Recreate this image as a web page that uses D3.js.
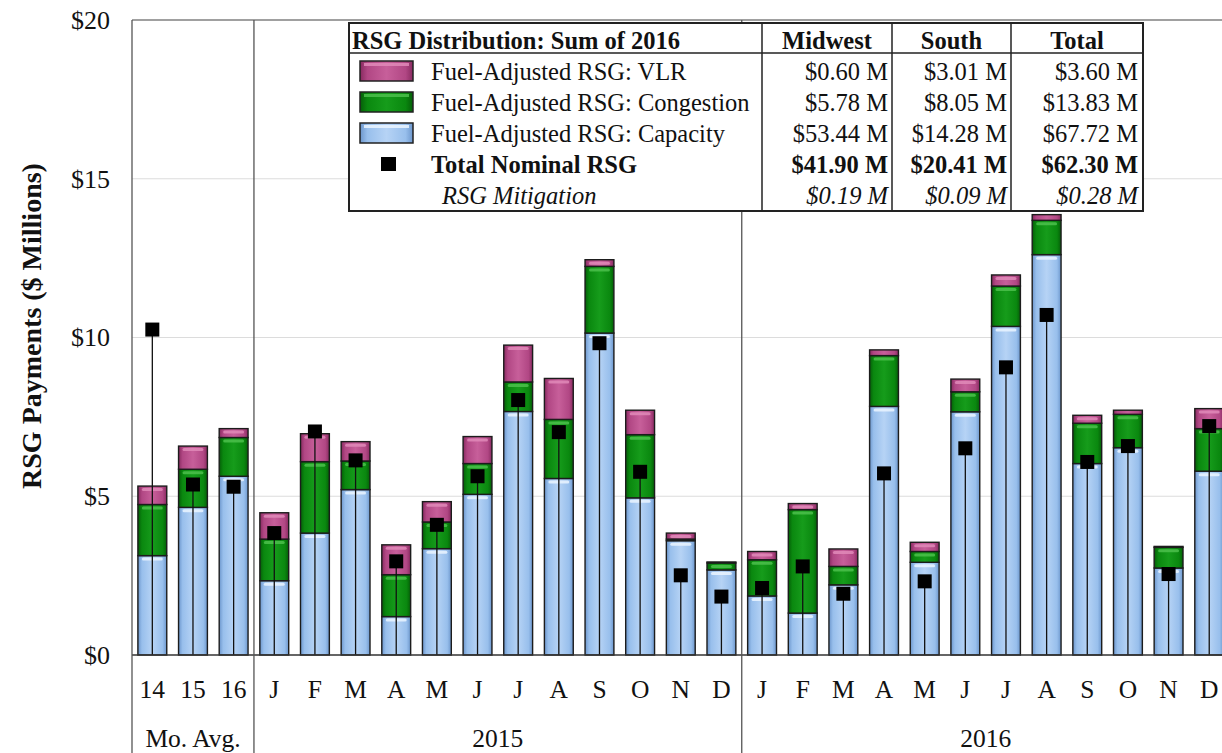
<!DOCTYPE html>
<html>
<head>
<meta charset="utf-8">
<script src="https://cdn.jsdelivr.net/npm/d3@7/dist/d3.min.js"></script>
<style>
  html, body { margin: 0; padding: 0; background: #fff; }
  svg { display: block; }
  text { font-family: "Liberation Serif", "Times New Roman", serif; fill: #111; }
</style>
</head>
<body>
<svg id="chart" width="1222" height="753"></svg>
<script>
// ---------------- DATA ----------------
const categories = ["14","15","16",
  "J","F","M","A","M","J","J","A","S","O","N","D",
  "J","F","M","A","M","J","J","A","S","O","N","D"];
const groups = ["Mo. Avg.","2015","2016"];
const groupSizes = [3, 12, 12];

const capacity   = [3.13,4.65,5.63, 2.34,3.84,5.21,1.21,3.35,5.06,7.67,5.56,10.14,4.95,3.60,2.68, 1.86,1.32,2.21,7.83,2.92,7.66,10.35,12.61,6.03,6.53,2.74,5.79];
const congestion = [1.61,1.20,1.22, 1.31,2.25,0.90,1.32,0.84,0.97,0.93,1.86,2.10,1.99,0.05,0.22, 1.14,3.26,0.58,1.60,0.34,0.63,1.27,1.08,1.27,1.05,0.65,1.34];
const vlr        = [0.58,0.73,0.28, 0.83,0.88,0.61,0.94,0.64,0.85,1.16,1.29,0.21,0.77,0.19,0.03, 0.26,0.19,0.55,0.18,0.29,0.40,0.35,0.18,0.25,0.13,0.03,0.63];
const nominal    = [10.25,5.37,5.30, 3.84,7.04,6.13,2.95,4.10,5.63,8.03,7.02,9.82,5.77,2.51,1.84, 2.11,2.79,1.93,5.72,2.32,6.51,9.06,10.71,6.08,6.58,2.55,7.21];

const yTicks = [0, 5, 10, 15, 20];

const tableHeader = ["RSG Distribution: Sum of 2016", "Midwest", "South", "Total"];
const tableLabels = ["Fuel-Adjusted RSG: VLR", "Fuel-Adjusted RSG: Congestion", "Fuel-Adjusted RSG: Capacity", "Total Nominal RSG", "RSG Mitigation"];
const tableMidwest = ["$0.60 M", "$5.78 M", "$53.44 M", "$41.90 M", "$0.19 M"];
const tableSouth   = ["$3.01 M", "$8.05 M", "$14.28 M", "$20.41 M", "$0.09 M"];
const tableTotal   = ["$3.60 M", "$13.83 M", "$67.72 M", "$62.30 M", "$0.28 M"];
const tableKinds   = ["vlr", "congestion", "capacity", "nominal", "mitigation"];

// ---------------- SETUP ----------------
const svg = d3.select("#chart");
const W = 1222, H = 753;
const plotLeft = 132, plotTop = 20, plotBottom = 655;
const step = 40.65;
const plotRight = plotLeft + categories.length * step;

const idx = d3.range(categories.length);
const x = d3.scaleBand().domain(idx).range([plotLeft, plotRight]).paddingInner(0.29).paddingOuter(0.145);
const y = d3.scaleLinear().domain([0, 20]).range([plotBottom, plotTop]);

const seriesColors = {
  capacity:   { dark: "#6c96cc", base: "#98bfec", light: "#b6d3f5", hi: "#eaf5ff" },
  congestion: { dark: "#055e08", base: "#0a880f", light: "#169c1b", hi: "#4cc04c" },
  vlr:        { dark: "#882a60", base: "#b14784", light: "#c75f9a", hi: "#e08ab8" }
};

const defs = svg.append("defs");
Object.entries(seriesColors).forEach(([k, c]) => {
  const g = defs.append("linearGradient").attr("id", "grad-" + k)
    .attr("x1", "0").attr("x2", "1").attr("y1", "0").attr("y2", "0");
  g.append("stop").attr("offset", "0").attr("stop-color", c.dark);
  g.append("stop").attr("offset", "0.14").attr("stop-color", c.base);
  g.append("stop").attr("offset", "0.5").attr("stop-color", c.light);
  g.append("stop").attr("offset", "0.86").attr("stop-color", c.base);
  g.append("stop").attr("offset", "1").attr("stop-color", c.dark);
});

// gridlines
svg.append("g").selectAll("line").data([5, 10, 15]).join("line")
  .attr("x1", plotLeft).attr("x2", W)
  .attr("y1", d => y(d)).attr("y2", d => y(d))
  .attr("stroke", "#dcdcdc").attr("stroke-width", 1.2);

// stacked data
const rows = idx.map(i => ({ i, capacity: capacity[i], congestion: congestion[i], vlr: vlr[i] }));
const stack = d3.stack().keys(["capacity", "congestion", "vlr"]);
const stacked = stack(rows);

const barsG = svg.append("g");
stacked.forEach(layer => {
  const key = layer.key;
  const lg = barsG.append("g");
  lg.selectAll("rect.seg").data(layer).join("rect")
    .attr("class", "seg")
    .attr("x", d => x(d.data.i))
    .attr("width", x.bandwidth())
    .attr("y", d => y(d[1]))
    .attr("height", d => Math.max(0, y(d[0]) - y(d[1])))
    .attr("fill", "url(#grad-" + key + ")")
    .attr("stroke", "#1c1c1c").attr("stroke-width", 1.4);
  // top highlight
  lg.selectAll("rect.hi").data(layer.filter(d => y(d[0]) - y(d[1]) > 6)).join("rect")
    .attr("class", "hi")
    .attr("x", d => x(d.data.i) + 4)
    .attr("width", x.bandwidth() - 8)
    .attr("y", d => y(d[1]) + 2)
    .attr("height", 3)
    .attr("rx", 1.5)
    .attr("fill", seriesColors[key].hi)
    .attr("opacity", 0.85);
});

// nominal: stem + square
const nomG = svg.append("g");
nomG.selectAll("line").data(idx).join("line")
  .attr("x1", i => x(i) + x.bandwidth() / 2).attr("x2", i => x(i) + x.bandwidth() / 2)
  .attr("y1", y(0)).attr("y2", i => y(nominal[i]))
  .attr("stroke", "#111").attr("stroke-width", 1.3);
const sq = 14;
nomG.selectAll("rect").data(idx).join("rect")
  .attr("x", i => x(i) + x.bandwidth() / 2 - sq / 2)
  .attr("y", i => y(nominal[i]) - sq / 2)
  .attr("width", sq).attr("height", sq)
  .attr("fill", "#000");

// frame
const frame = svg.append("g");
frame.append("line").attr("x1", plotLeft).attr("x2", W).attr("y1", plotTop).attr("y2", plotTop)
  .attr("stroke", "#808080").attr("stroke-width", 1.6);
frame.append("line").attr("x1", plotLeft).attr("x2", W).attr("y1", y(0)).attr("y2", y(0))
  .attr("stroke", "#333").attr("stroke-width", 1.5);
let cum = 0;
const sepIdx = [0];
groupSizes.forEach(s => { cum += s; sepIdx.push(cum); });
const bandEdge = k => plotLeft + k * step;
frame.selectAll("line.sep").data(sepIdx.slice(0, 3)).join("line")
  .attr("class", "sep")
  .attr("x1", k => bandEdge(k)).attr("x2", k => bandEdge(k))
  .attr("y1", plotTop).attr("y2", H)
  .attr("stroke", "#555").attr("stroke-width", 1.3);

// y axis
const yAxis = svg.append("g").attr("transform", `translate(${plotLeft},0)`)
  .call(d3.axisLeft(y).tickValues(yTicks).tickFormat(d => "$" + d).tickSize(0).tickPadding(22));
yAxis.select(".domain").remove();
yAxis.selectAll("text").style("font-family", "Liberation Serif, serif").style("font-size", "26px").attr("fill", "#111");

// x axis
const xAxis = svg.append("g").attr("transform", `translate(0,${plotBottom})`)
  .call(d3.axisBottom(x).tickFormat(i => categories[i]).tickSize(0).tickPadding(25));
xAxis.select(".domain").remove();
xAxis.selectAll("text").style("font-family", "Liberation Serif, serif").style("font-size", "25.5px").attr("fill", "#111");

// group labels
svg.append("g").selectAll("text").data(groups).join("text")
  .attr("x", (d, j) => (bandEdge(sepIdx[j]) + bandEdge(sepIdx[j + 1])) / 2)
  .attr("y", 747)
  .attr("text-anchor", "middle")
  .style("font-size", "25.5px")
  .text(d => d);

// y title
svg.append("text")
  .attr("transform", "translate(31,326) rotate(-90)")
  .attr("text-anchor", "middle")
  .attr("dominant-baseline", "central")
  .style("font-size", "28px").style("font-weight", "bold")
  .text("RSG Payments ($ Millions)");

// ---------------- TABLE LEGEND ----------------
const T = { x0: 349, x1: 1143, y0: 23, y1: 211, hdr: 53, c1: 762, c2: 892, c3: 1011 };
const fs = "24.5px";
const tg = svg.append("g");
tg.append("rect").attr("x", T.x0).attr("y", T.y0).attr("width", T.x1 - T.x0).attr("height", T.y1 - T.y0)
  .attr("fill", "#fff").attr("stroke", "#222").attr("stroke-width", 2);
tg.append("line").attr("x1", T.x0).attr("x2", T.x1).attr("y1", T.hdr).attr("y2", T.hdr).attr("stroke", "#222").attr("stroke-width", 1.5);
[T.c1, T.c2, T.c3].forEach(cx => {
  tg.append("line").attr("x1", cx).attr("x2", cx).attr("y1", T.y0).attr("y2", T.y1).attr("stroke", "#222").attr("stroke-width", 1.5);
});
const hdrY = 40;
tg.append("text").attr("x", 352).attr("y", hdrY).attr("dominant-baseline", "central")
  .style("font-size", fs).style("font-weight", "bold").text(tableHeader[0]);
[[T.c1, T.c2], [T.c2, T.c3], [T.c3, T.x1]].forEach((c, j) => {
  tg.append("text").attr("x", (c[0] + c[1]) / 2).attr("y", hdrY).attr("dominant-baseline", "central")
    .attr("text-anchor", "middle").style("font-size", fs).style("font-weight", "bold").text(tableHeader[j + 1]);
});
const rowY = [71, 102, 133, 164, 195];
tableKinds.forEach((kind, r) => {
  const ry = rowY[r];
  if (seriesColors[kind]) {
    tg.append("rect").attr("x", 360).attr("y", ry - 10).attr("width", 53).attr("height", 20)
      .attr("fill", "url(#grad-" + kind + ")").attr("stroke", "#222").attr("stroke-width", 1.5);
    tg.append("rect").attr("x", 364).attr("y", ry - 8).attr("width", 45).attr("height", 3)
      .attr("fill", seriesColors[kind].hi).attr("opacity", 0.85);
  } else if (kind === "nominal") {
    tg.append("rect").attr("x", 381).attr("y", ry - 7).attr("width", 15).attr("height", 14).attr("fill", "#000");
  }
  const bold = kind === "nominal", ital = kind === "mitigation";
  const style = s => s.style("font-size", fs)
    .style("font-weight", bold ? "bold" : "normal")
    .style("font-style", ital ? "italic" : "normal")
    .attr("dominant-baseline", "central");
  style(tg.append("text").attr("x", ital ? 442 : 431).attr("y", ry)).text(tableLabels[r]);
  style(tg.append("text").attr("x", T.c2 - 4).attr("y", ry).attr("text-anchor", "end")).text(tableMidwest[r]);
  style(tg.append("text").attr("x", T.c3 - 4).attr("y", ry).attr("text-anchor", "end")).text(tableSouth[r]);
  style(tg.append("text").attr("x", T.x1 - 5).attr("y", ry).attr("text-anchor", "end")).text(tableTotal[r]);
});
</script>
</body>
</html>
